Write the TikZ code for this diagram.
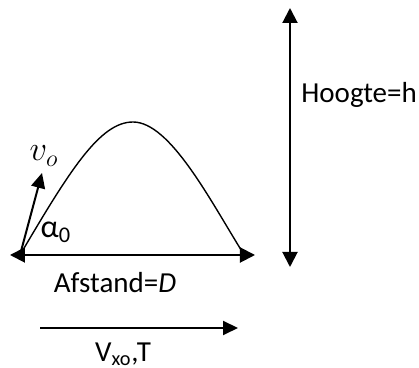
\documentclass[tikz,border=0pt]{standalone}
\usepackage{fontspec}
\setmainfont{Carlito}
\usetikzlibrary{arrows.meta}

\begin{document}
\begin{tikzpicture}[x=0.5pt,y=-0.5pt,
  lbl/.style={font=\fontsize{14.5}{17}\selectfont,inner sep=0pt},
  dim/.style={line width=1pt,{Triangle[length=7.5pt,width=7.5pt]}-{Triangle[length=7.5pt,width=7.5pt]}},
  vec/.style={line width=1pt,-{Triangle[length=7.5pt,width=7pt]}},
]
\useasboundingbox (0,0) rectangle (419,368);
\coordinate (start) at (20,255);
\coordinate (peak) at (133,122);
\coordinate (land) at (243,253);
\coordinate (dleft) at (10,255);
\coordinate (dright) at (255,255);
\coordinate (vtip) at (42,173);
\coordinate (htop) at (290,8);
\coordinate (hbot) at (290,267);
\coordinate (vxa) at (40,328);
\coordinate (vxb) at (238,328);
\node[lbl,font=\fontsize{18}{20}\selectfont] (vo) at (44,156) {$v_o$};
\node[lbl,font=\fontsize{16}{18}\selectfont] (alpha) at (56,232) {α\textsubscript{0}};
\node[lbl] (afstand) at (115,283) {Afstand=\textit{D}};
\node[lbl,anchor=west] (hoogte) at (301,95) {Hoogte=h};
\node[lbl] (vxo) at (123,354) {V\textsubscript{xo},T};
\draw[line width=0.7pt] (start) .. controls (70,170) and (100,122) .. (peak)
  .. controls (170,122) and (210,200) .. (land);
\draw[dim] (dleft) -- (dright);
\draw[dim] (htop) -- (hbot);
\draw[vec] (start) -- (vtip);
\draw[vec] (vxa) -- (vxb);
\end{tikzpicture}
\end{document}
